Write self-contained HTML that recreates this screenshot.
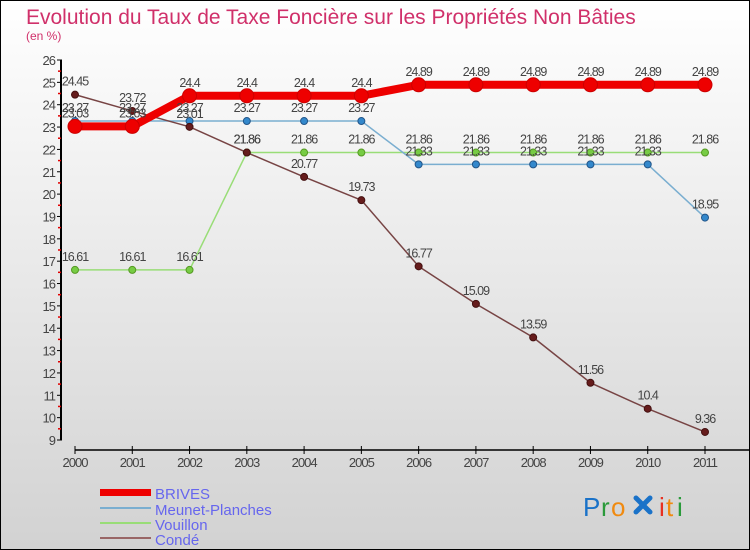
<!DOCTYPE html>
<html><head><meta charset="utf-8"><style>
body{margin:0;width:750px;height:550px;overflow:hidden}
svg{display:block;font-family:"Liberation Sans",sans-serif}
</style></head><body>
<svg id="c" width="750" height="550" xmlns="http://www.w3.org/2000/svg">
<defs><linearGradient id="bg" x1="0" y1="0" x2="0" y2="1"><stop offset="0" stop-color="#ffffff"/><stop offset="1" stop-color="#d2d2d2"/></linearGradient></defs>
<rect x="0.5" y="0.5" width="749" height="549" fill="url(#bg)" stroke="#000"/>
<text x="26" y="24" font-size="21" fill="#d0306a">Evolution du Taux de Taxe Foncière sur les Propriétés Non Bâties</text>
<text x="26" y="40" font-size="12" fill="#d0306a">(en %)</text>
<g id="axes"></g><g id="series"></g><g id="labels"></g>
<g>
<rect x="100" y="489" width="51" height="7" fill="#ee0000"/>
<text x="155" y="499" font-size="15" fill="#6666ee">BRIVES</text>
<line x1="100" y1="508" x2="151" y2="508" stroke="#7aaed0" stroke-width="2"/>
<text x="155" y="515" font-size="15" fill="#6666ee">Meunet-Planches</text>
<line x1="100" y1="523" x2="151" y2="523" stroke="#99dd77" stroke-width="2"/>
<text x="155" y="530" font-size="15" fill="#6666ee">Vouillon</text>
<line x1="100" y1="538" x2="151" y2="538" stroke="#996666" stroke-width="2"/>
<text x="155" y="545" font-size="15" fill="#6666ee">Condé</text>
</g>
<g font-size="26">
<text x="583" y="516" fill="#1a72c8">P</text><text x="601" y="516" fill="#2a9a3a">r</text><text x="611" y="516" fill="#f08a10">o</text>
<g stroke="#1a72c8" stroke-width="5" stroke-linecap="round"><line x1="636" y1="498" x2="650" y2="512"/><line x1="650" y1="498" x2="636" y2="512"/></g>
<text x="659" y="516" fill="#e83020">i</text><text x="666" y="516" fill="#f08a10">t</text><text x="677" y="516" fill="#2a9a3a">i</text>
</g>
</svg>
<script>
const years=["2000","2001","2002","2003","2004","2005","2006","2007","2008","2009","2010","2011"];
const brives=[23.03,23.03,24.4,24.4,24.4,24.4,24.89,24.89,24.89,24.89,24.89,24.89];
const meunet=[23.27,23.27,23.27,23.27,23.27,23.27,21.33,21.33,21.33,21.33,21.33,18.95];
const vouillon=[16.61,16.61,16.61,21.86,21.86,21.86,21.86,21.86,21.86,21.86,21.86,21.86];
const conde=[24.45,23.72,23.01,21.86,20.77,19.73,16.77,15.09,13.59,11.56,10.4,9.36];
const yTicks=[9,10,11,12,13,14,15,16,17,18,19,20,21,22,23,24,25,26];
const NS="http://www.w3.org/2000/svg";
const xS=i=>75+i*(630/11);
const yS=v=>60+(26-v)*(380/17);
function mk(tag,at,par){const e=document.createElementNS(NS,tag);for(const k in at)e.setAttribute(k,at[k]);par.appendChild(e);return e;}
const ax=document.getElementById('axes');
let l=mk('line',{x1:61,y1:60,x2:61,y2:440,stroke:'#000','stroke-width':2},ax);


yTicks.forEach(v=>{
  const y=yS(v);
  mk('line',{x1:57,y1:y,x2:62,y2:y,stroke:'#000'},ax);
  if(v<26)mk('line',{x1:58,y1:y-11.2,x2:61,y2:y-11.2,stroke:'#e00000','stroke-width':1.5},ax);
  const t=mk('text',{x:55,y:y+5,'font-size':13,fill:'#444','text-anchor':'end','letter-spacing':'-1'},ax);
  t.textContent=v;
  
  
});
l=mk('line',{x1:75,y1:450,x2:750,y2:450,stroke:'#000','stroke-width':1.5},ax);


years.forEach((yr,i)=>{
  const x=xS(i);
  mk('line',{x1:x,y1:446,x2:x,y2:454,stroke:'#000'},ax);
  const t=mk('text',{x:x,y:467,'font-size':13,fill:'#444','text-anchor':'middle','letter-spacing':'-1'},ax);
  t.textContent=yr;
  
  
});
const sg=document.getElementById('series'),lg=document.getElementById('labels');
function series(name,data,color,w,r,dot,ds){
  const g=mk('g',{},sg);
  
  
  const p=mk('polyline',{points:data.map((v,i)=>xS(i)+','+yS(v)).join(' '),fill:'none',stroke:color,'stroke-width':w,'stroke-linejoin':'round'},g);
  
  
  data.forEach((v,i)=>{
    const c=mk('circle',{cx:xS(i),cy:yS(v),r:r,fill:dot,stroke:ds,'stroke-width':1},g);
    
    
    const t=mk('text',{x:xS(i),y:yS(v)-9,'font-size':12.5,fill:'#444','text-anchor':'middle','letter-spacing':'-1'},lg);
    t.textContent=v;
    
    
  });
}
series('vouillon',vouillon,'#99dd77',1.5,3.5,'#77cc44','#559922');
series('meunet',meunet,'#7aaed0',1.5,3.5,'#3388cc','#225588');
series('conde',conde,'#774444',1.5,3.5,'#661c1c','#441010');
series('brives',brives,'#ee0000',8,7,'#ee0000','#cc0000');
</script>
</body></html>
